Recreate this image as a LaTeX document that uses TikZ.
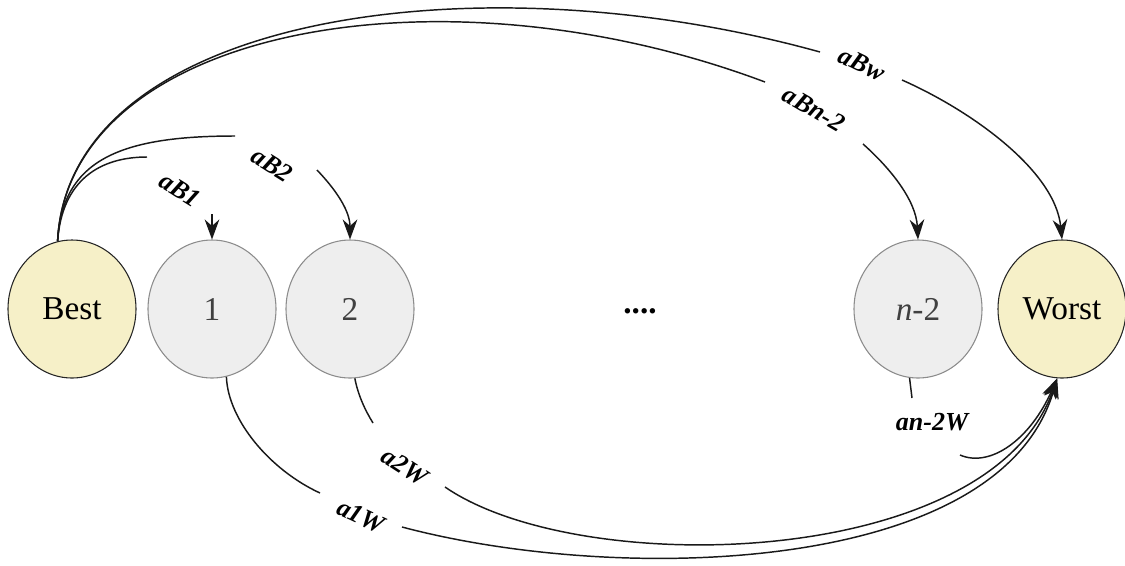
\documentclass[tikz,border=0pt]{standalone}
\usepackage{fontspec}
\setmainfont{Liberation Serif}
\usetikzlibrary{shapes.geometric,arrows.meta}
\definecolor{pale}{RGB}{246,240,200}
\definecolor{stategray}{RGB}{238,238,238}
\definecolor{stateline}{RGB}{140,140,140}
\tikzset{
  state/.style={ellipse, draw=stateline, fill=stategray, line width=0.8pt,
    minimum width=96pt, minimum height=103.5pt, inner sep=0pt,
    text=black!75, font=\fontsize{25}{28}\selectfont},
  term/.style={state, draw=black!85, fill=pale, text=black},
  lbl/.style={font=\fontsize{19.5}{21}\selectfont\bfseries\itshape, inner sep=1pt},
  conn/.style={line width=1.1pt, draw=black!90},
  arr/.style={conn, -{Stealth[length=15pt, width=11pt]}}
}
\begin{document}
\begin{tikzpicture}[x=0.75pt, y=-0.75pt]
\useasboundingbox (0,0) rectangle (1125,565);
% states
\node[term]  (Best)  at (72,309)  {Best};
\node[state] (N1)    at (212,309) {1};
\node[state] (N2)    at (350,309) {2};
\node[font=\fontsize{25}{28}\selectfont\bfseries] (dots) at (640,311) {....};
\node[state] (Nn)    at (918,309) {{\itshape n}-2};
\node[term]  (Worst) at (1062,309) {Worst};

% free ends of the broken connectors
\coordinate (b1a) at (147,157);
\coordinate (b1b) at (212,214);
\coordinate (b2a) at (235,136);
\coordinate (b2b) at (317,170);
\coordinate (bna) at (765,82);
\coordinate (bnb) at (863,144);
\coordinate (bwa) at (820,52);
\coordinate (bwb) at (902,80);
\coordinate (w1a) at (320,493);
\coordinate (w1b) at (402,527);
\coordinate (w2a) at (373,423);
\coordinate (w2b) at (445,487);
\coordinate (wna) at (912,398);
\coordinate (wnb) at (960,455);

% Best -> 1
\draw[conn] (Best.102) .. controls (62,180) and (100,157) .. (b1a);
\draw[arr] (b1b) -- (N1.north);
\node[lbl, rotate=-32] (lB1) at (180,190) {aB1};
% Best -> 2
\draw[conn] (Best.102) .. controls (62,160) and (120,136) .. (b2a);
\draw[arr] (b2b) .. controls (338,192) and (350,212) .. (N2.north);
\node[lbl, rotate=-32] (lB2) at (272,165) {aB2};
% Best -> n-2
\draw[conn] (Best.102) .. controls (68,28) and (440,-40) .. (bna);
\draw[arr] (bnb) .. controls (890,168) and (916,200) .. (Nn.north);
\node[lbl, rotate=-30] (lBn) at (814,109) {aBn-2};
% Best -> Worst
\draw[conn] (Best.102) .. controls (68,18) and (470,-45) .. (bwa);
\draw[arr] (bwb) .. controls (970,110) and (1055,170) .. (Worst.north);
\node[lbl, rotate=-26] (lBw) at (862,64) {aBw};

% 1 -> Worst
\draw[conn] (N1.-78) .. controls (228,420) and (270,470) .. (w1a);
\draw[arr] (w1b) .. controls (620,585) and (1000,575) .. (Worst.-94);
\node[lbl, rotate=-25] (l1W) at (361,516) {a1W};
% 2 -> Worst
\draw[conn] (N2.-86) .. controls (358,395) and (365,410) .. (w2a);
\draw[arr] (w2b) .. controls (580,580) and (990,570) .. (Worst.-94);
\node[lbl, rotate=-33] (l2W) at (405,467) {a2W};
% n-2 -> Worst
\draw[conn] (Nn.-97) -- (wna);
\draw[arr] (wnb) .. controls (990,468) and (1030,440) .. (Worst.-94);
\node[lbl] (lnW) at (932,422) {an-2W};
\end{tikzpicture}
\end{document}
